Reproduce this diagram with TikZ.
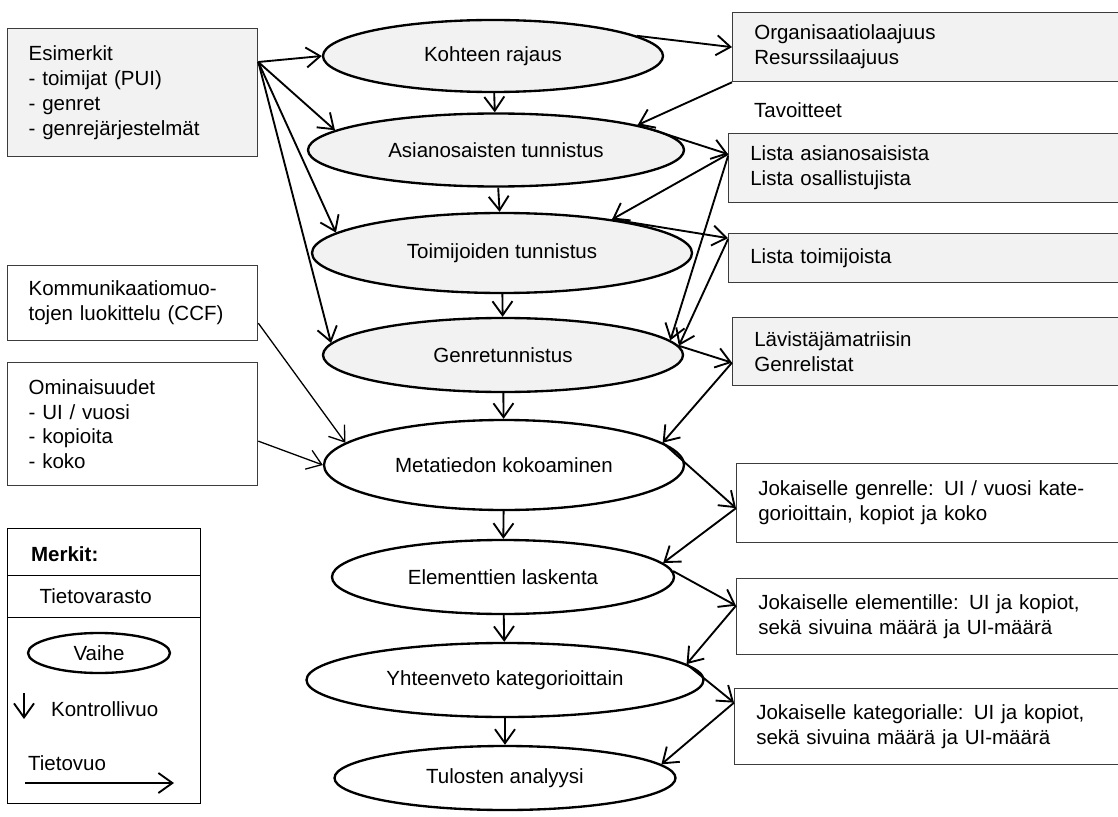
\documentclass[tikz,border=0pt]{standalone}
\usepackage{fontspec}
\setmainfont{Liberation Sans}
\usepackage{tikz}
\usetikzlibrary{positioning,shapes.geometric,arrows.meta,calc}
\definecolor{storegray}{RGB}{242,242,242}
\definecolor{edgegray}{RGB}{60,60,60}

\begin{document}
\begin{tikzpicture}[
    x=0.03cm, y=-0.03cm,
    every node/.style={font=\fontsize{17.5pt}{21.3pt}\selectfont},
    phase/.style={ellipse, draw=black, line width=2pt, inner sep=0pt},
    gphase/.style={phase, fill=storegray},
    store/.style={rectangle, draw=edgegray, line width=1.1pt, align=left, inner xsep=2pt, inner ysep=0pt},
    gstore/.style={store, fill=storegray},
    outbox/.style={gstore, anchor=north west, minimum width=12cm, text width=10.7cm},
    ctrl/.style={line width=1.6pt, -{Straight Barb[length=0.42cm, width=0.6cm]}},
    flow/.style={line width=1.6pt, -{Straight Barb[length=0.42cm, width=0.6cm]}},
    thinflow/.style={flow, line width=1.1pt}
]

% Frame
\useasboundingbox (0,0) rectangle (1118,817);
\clip (0,0) rectangle (1118,817);
\fill[white] (0,0) rectangle (1118,817);

% Phases
\node[gphase, minimum width=10.2cm, minimum height=2.16cm] (kohde) at (493,56) {Kohteen rajaus};
\node[gphase, minimum width=11.28cm, minimum height=2.19cm] (asian) at (496,150) {Asianosaisten tunnistus};
\node[gphase, minimum width=11.4cm, minimum height=2.4cm] (toim) at (502,253) {Toimijoiden tunnistus};
\node[gphase, minimum width=10.8cm, minimum height=2.22cm] (genre) at (503,355) {Genretunnistus};
\node[phase, minimum width=10.8cm, minimum height=2.7cm] (meta) at (504,465) {Metatiedon kokoaminen};
\node[phase, minimum width=10.26cm, minimum height=2.22cm] (elem) at (503,577) {Elementtien laskenta};
\node[phase, minimum width=11.91cm, minimum height=2.22cm] (yht) at (505,680) {Yhteenveto kategorioittain};
\node[phase, minimum width=10.23cm, minimum height=1.92cm] (tulos) at (505,778) {Tulosten analyysi};

% Inputs on the left
\node[gstore, anchor=north west, minimum width=7.5cm, minimum height=3.84cm, text width=6.24cm] (esim) at (7,28) {Esimerkit\\- toimijat (PUI)\\- genret\\- genrejärjestelmät};
\node[store, anchor=north west, minimum width=7.5cm, minimum height=2.25cm, text width=6.24cm] (ccf) at (7,265) {Kommunikaatiomuo-\\tojen luokittelu (CCF)};
\node[store, anchor=north west, minimum width=7.5cm, minimum height=3.69cm, text width=6.24cm] (omin) at (7,362) {Ominaisuudet\\- UI / vuosi\\- kopioita\\- koko};

% Outputs on the right
\node[outbox, minimum height=2.07cm] (org) at (732,12) {Organisaatiolaajuus\\Resurssilaajuus};
\node[anchor=west] (tavo) at (750,110) {Tavoitteet};
\node[outbox, minimum height=2.07cm] (lasian) at (728,133) {Lista asianosaisista\\Lista osallistujista};
\node[outbox, minimum height=1.47cm] (ltoim) at (728,233) {Lista toimijoista};
\node[outbox, minimum height=2.04cm] (lav) at (732,317) {Lävistäjämatriisin\\Genrelistat};
\node[outbox, fill=white, minimum height=2.37cm] (jgen) at (736,463) {\makebox[10.29cm][s]{Jokaiselle genrelle: UI / vuosi kate-}\\gorioittain, kopiot ja koko};
\node[outbox, fill=white, minimum height=2.28cm] (jelem) at (736,578) {\makebox[10.29cm][s]{Jokaiselle elementille: UI ja kopiot,}\\sekä sivuina määrä ja UI-määrä};
\node[outbox, fill=white, minimum height=2.28cm] (jkat) at (734,688) {\makebox[10.29cm][s]{Jokaiselle kategorialle: UI ja kopiot,}\\sekä sivuina määrä ja UI-määrä};

% Legend
\node[draw=black, line width=1.1pt, anchor=north west, minimum width=5.79cm, minimum height=8.25cm] (legend) at (7,528) {};
\node[anchor=west] (merkit) at (27,554) {\textbf{Merkit:}};
\node[store, draw=black, anchor=north west, minimum width=5.79cm, minimum height=1.26cm, text width=3.87cm] (tieto) at (7,575) {Tietovarasto};
\node[phase, minimum width=4.26cm, minimum height=1.2cm] (vaihe) at (99,653) {Vaihe};
\coordinate (ktop) at (24,693);
\coordinate (kbot) at (24,719);
\node[anchor=west] (kontr) at (47,709) {Kontrollivuo};
\node[anchor=west] (tvuo) at (24,763) {Tietovuo};
\coordinate (ltail) at (25,783);
\coordinate (lhead) at (174,783);
\draw[ctrl] (ktop) -- (kbot);
\draw[flow] (ltail) -- (lhead);

% Control flow
\draw[ctrl] (kohde) -- (asian);
\draw[ctrl] (asian) -- (toim);
\draw[ctrl] (toim) -- (genre);
\draw[ctrl] (genre) -- (meta);
\draw[ctrl] (meta) -- (elem);
\draw[ctrl] (elem) -- (yht);
\draw[ctrl] (yht) -- (tulos);

% Data flow from the inputs
\coordinate (fan) at ($(esim.north east)+(0,34)$);
\draw[flow] (fan) -- (kohde.west);
\draw[flow] (fan) -- (asian.173);
\draw[flow] (fan) -- (toim.173);
\draw[flow] (fan) -- (genre.176);
\draw[thinflow] ($(ccf.east)+(0,20)$) -- (meta.172);
\draw[thinflow] ($(omin.east)+(0,17)$) -- (meta.west);

% Data flow to and from the outputs
\draw[flow] (kohde.8) -- (org.west);
\draw[flow] (org.south west) -- (asian.10);
\draw[flow] (asian.10) -- ($(lasian.west)+(0,-14)$);
\draw[flow] ($(lasian.west)+(0,-14)$) -- (toim.17);
\draw[flow] (toim.17) -- ($(ltoim.west)+(0,-20)$);
\draw[flow] ($(lasian.west)+(0,-12)$) -- (genre.5);
\draw[flow] ($(ltoim.west)+(0,-19)$) -- (genre.3);
\draw[flow] (genre.3) -- ($(lav.west)+(0,11)$);
\draw[flow] ($(lav.west)+(0,11)$) -- (meta.8);
\draw[flow] (meta.8) -- ($(jgen.west)+(0,5)$);
\draw[flow] ($(jgen.west)+(0,5)$) -- (elem.5);
\draw[flow] (elem.2) -- ($(jelem.west)+(0,-11)$);
\draw[flow] ($(jelem.west)+(0,-11)$) -- (yht.5);
\draw[flow] (yht.5) -- ($(jkat.west)+(0,-24)$);
\draw[flow] ($(jkat.west)+(0,-24)$) -- (tulos.5);

\end{tikzpicture}
\end{document}
